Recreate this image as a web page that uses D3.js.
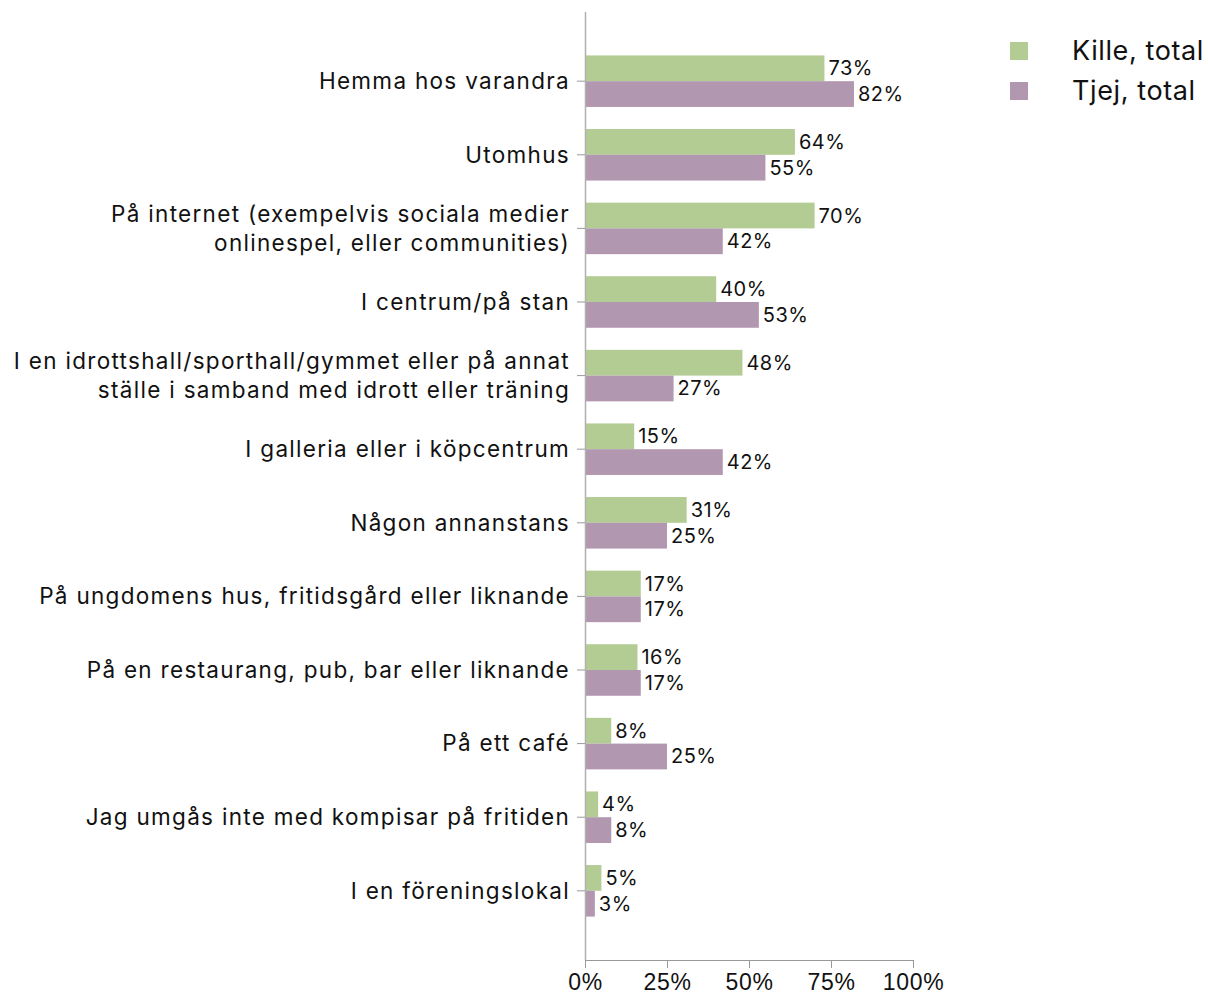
<!DOCTYPE html>
<html>
<head>
<meta charset="utf-8">
<title>Var umgås du med kompisar</title>
<style>
html, body {
    margin: 0;
    background: #fff;
    font-family: 'Inter', 'Noto Sans', sans-serif;
}
.cat { font-size: 22.5px; letter-spacing: 1.3px; fill: #111; }
.val { font-size: 20px; letter-spacing: 0.5px; fill: #111; }
.tick text { font-size: 23px; letter-spacing: 0.7px; fill: #111; }
.legend text { font-size: 27px; letter-spacing: 0.6px; fill: #111; }
</style>
<script src="https://d3js.org/d3.v7.min.js"></script>
</head>
<body>
<svg width="1208" height="997"></svg>
<script>

var categories = [
  ["Hemma hos varandra"],
  ["Utomhus"],
  ["På internet (exempelvis sociala medier", "onlinespel, eller communities)"],
  ["I centrum/på stan"],
  ["I en idrottshall/sporthall/gymmet eller på annat", "ställe i samband med idrott eller träning"],
  ["I galleria eller i köpcentrum"],
  ["Någon annanstans"],
  ["På ungdomens hus, fritidsgård eller liknande"],
  ["På en restaurang, pub, bar eller liknande"],
  ["På ett café"],
  ["Jag umgås inte med kompisar på fritiden"],
  ["I en föreningslokal"]
];
var kille = [73, 64, 70, 40, 48, 15, 31, 17, 16, 8, 4, 5];
var tjej  = [82, 55, 42, 53, 27, 42, 25, 17, 17, 25, 8, 3];
var seriesNames = ["Kille, total", "Tjej, total"];
var colors = ["#b3cc94", "#b197af"];
var ticks = [0, 25, 50, 75, 100];

var svg = d3.select("svg");
var plotLeft = 585, plotRight = 913, plotTop = 12, plotBottom = 960;

var x = d3.scaleLinear().domain([0, 100]).range([plotLeft, plotRight]);
var y = d3.scaleBand()
    .domain(d3.range(categories.length))
    .range([plotTop, plotBottom])
    .paddingInner(0.3)
    .paddingOuter(0.59);
var sub = d3.scaleBand().domain([0, 1]).range([0, y.bandwidth()]);

var series = [kille, tjej];

// bars
series.forEach(function(vals, s) {
  svg.append("g").selectAll("rect")
    .data(vals)
    .enter().append("rect")
      .attr("x", x(0))
      .attr("y", function(d, i) { return y(i) + sub(s); })
      .attr("width", function(d) { return x(d) - x(0); })
      .attr("height", sub.bandwidth())
      .attr("fill", colors[s]);

  svg.append("g").selectAll("text")
    .data(vals)
    .enter().append("text")
      .attr("class", "val")
      .attr("x", function(d) { return x(d) + 4; })
      .attr("y", function(d, i) { return y(i) + sub(s) + sub.bandwidth() / 2; })
      .attr("dy", "0.35em")
      .text(function(d) { return d + "%"; });
});

// y axis line + ticks
svg.append("line")
    .attr("x1", plotLeft + 0.5).attr("x2", plotLeft + 0.5)
    .attr("y1", plotTop).attr("y2", plotBottom)
    .attr("stroke", "#b0b0b0").attr("stroke-width", 1.5);

var cat = svg.append("g").selectAll("g")
  .data(categories)
  .enter().append("g")
    .attr("transform", function(d, i) { return "translate(0," + (y(i) + y.bandwidth() / 2) + ")"; });

cat.append("line")
    .attr("x1", plotLeft - 8).attr("x2", plotLeft)
    .attr("stroke", "#999");

cat.append("text")
    .attr("class", "cat")
    .attr("text-anchor", "end")
    .selectAll("tspan")
    .data(function(d) { return d; })
    .enter().append("tspan")
      .attr("x", plotLeft - 15)
      .attr("y", function(d, i, nodes) { return (i - (nodes.length - 1) / 2) * 29; })
      .attr("dy", "0.35em")
      .text(function(d) { return d; });

// x axis
var xAxis = svg.append("g")
    .attr("transform", "translate(0," + plotBottom + ")")
    .call(d3.axisBottom(x).tickValues(ticks).tickSize(8).tickPadding(6)
      .tickFormat(function(d) { return d + "%"; }));
xAxis.select(".domain").attr("stroke", "#999");
xAxis.selectAll(".tick line").attr("stroke", "#999");
xAxis.selectAll(".tick text").attr("font-family", null).attr("font-size", null);

// legend
var legend = svg.append("g").attr("class", "legend")
  .selectAll("g")
  .data(seriesNames)
  .enter().append("g")
    .attr("transform", function(d, i) { return "translate(1010," + (51 + i * 40) + ")"; });

legend.append("rect")
    .attr("x", 0).attr("y", -9)
    .attr("width", 18).attr("height", 18)
    .attr("fill", function(d, i) { return colors[i]; });

legend.append("text")
    .attr("x", 62)
    .attr("dy", "0.35em")
    .text(function(d) { return d; });

</script>
</body>
</html>
